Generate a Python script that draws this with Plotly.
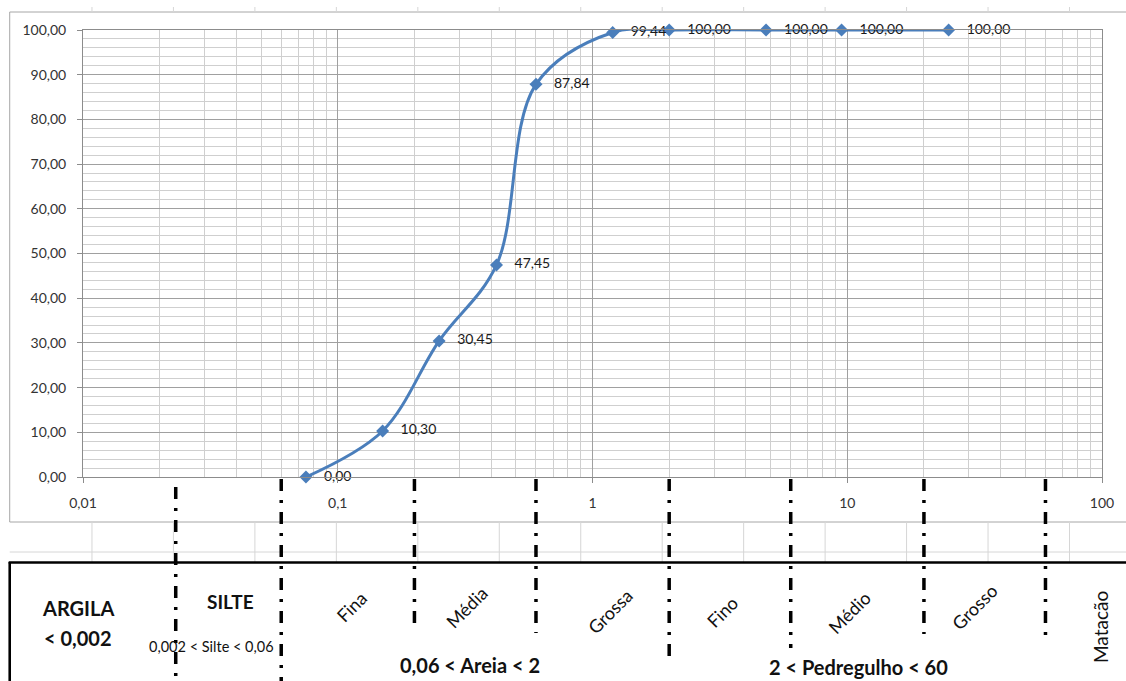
import plotly.graph_objects as go

# ---------------- data ----------------
diametros = [0.075, 0.15, 0.25, 0.42, 0.6, 1.2, 2.0, 4.8, 9.5, 25.0]
passante = [0.00, 10.30, 30.45, 47.45, 87.84, 99.44, 100.00, 100.00, 100.00, 100.00]
x_tick_vals = [0.01, 0.1, 1, 10, 100]
x_tick_text = ["0,01", "0,1", "1", "10", "100"]
limites = [0.06, 0.2, 0.6, 2, 6, 20, 60]          # fraction boundaries (mm)

# ---------------- geometry helpers (pixels -> paper) ----------------
W, H = 1126, 681
L, R, T, B = 83, 1105, 30, 477


def px(x):
    return (x - L) / (R - L)


def py(y):
    return (B - y) / (B - T)


BLUE = "#4A7EBB"
FONT = "Lato"
GRID_MAJ = "#a0a0a0"
GRID_MIN = "#cfcfcf"

minor_x = [m * 10 ** e for e in range(-2, 2) for m in range(2, 10)]

fig = go.Figure()
fig.add_trace(go.Scatter(
    x=diametros, y=passante,
    mode="lines+markers+text",
    line=dict(color=BLUE, width=3, shape="spline", smoothing=1),
    marker=dict(symbol="diamond", size=10, color=BLUE),
    texttemplate="\u00a0\u00a0\u00a0%{y:.2f}",
    textposition="middle right",
    textfont=dict(family=FONT, size=14, color="#1a1a1a"),
    cliponaxis=False,
    showlegend=False,
))

fig.update_layout(
    width=W, height=H,
    margin=dict(l=L, r=W - R, t=T, b=H - B),
    paper_bgcolor="white", plot_bgcolor="white",
    separators=",.",
    font=dict(family=FONT, color="#333333"),
)

fig.update_xaxes(
    type="log", range=[-2, 2],
    tickmode="array", tickvals=x_tick_vals, ticktext=x_tick_text,
    ticks="outside", ticklen=5, tickcolor="#8c8c8c",
    showline=True, linecolor="#8c8c8c", mirror=True,
    showgrid=True, gridcolor=GRID_MAJ, gridwidth=1,
    minor=dict(tickmode="array", tickvals=minor_x, showgrid=True,
               gridcolor=GRID_MIN, ticks=""),
    zeroline=False,
    tickfont=dict(family=FONT, size=14, color="#333333"),
    ticklabelstandoff=8,
)
fig.update_yaxes(
    range=[0, 100], dtick=10, tickformat=".2f",
    ticks="outside", ticklen=5, tickcolor="#8c8c8c",
    showline=True, linecolor="#8c8c8c", mirror=True,
    showgrid=True, gridcolor=GRID_MAJ, gridwidth=1,
    minor=dict(dtick=2, showgrid=True, gridcolor=GRID_MIN, ticks=""),
    zeroline=False,
    tickfont=dict(family=FONT, size=14, color="#333333"),
    ticklabelstandoff=8,
)

shapes = []
# chart border (excel chart object)
border = dict(type="line", xref="paper", yref="paper",
              line=dict(color="#a6a6a6", width=1))
shapes.append({**border, "x0": px(9.5), "x1": px(1130), "y0": py(12), "y1": py(12)})
shapes.append({**border, "x0": px(9.5), "x1": px(9.5), "y0": py(12), "y1": py(522)})
shapes.append({**border, "x0": px(9.5), "x1": px(1130), "y0": py(522), "y1": py(522)})

# spreadsheet cell lines
cell = dict(type="line", xref="paper", yref="paper",
            line=dict(color="#d6d6d6", width=1))
shapes.append({**cell, "x0": px(9.5), "x1": px(1130), "y0": py(552), "y1": py(552)})
for k in range(13):
    cx = 92 + 81.7 * k
    shapes.append({**cell, "x0": px(cx), "x1": px(cx), "y0": py(522), "y1": py(562)})
    shapes.append({**cell, "x0": px(cx), "x1": px(cx), "y0": py(7), "y1": py(12)})

# thick black table lines
blk = dict(type="line", xref="paper", yref="paper",
           line=dict(color="black", width=2.6))
shapes.append({**blk, "x0": px(8.5), "x1": px(1130), "y0": py(562.5), "y1": py(562.5)})
shapes.append({**blk, "x0": px(9.5), "x1": px(9.5), "y0": py(562), "y1": py(690)})

# dash-dot boundary lines
DASH = "12px,9px,3px,9px"
dl = dict(type="line", yref="paper", layer="above",
          line=dict(color="black", width=3.5, dash=DASH))
shapes.append({**dl, "xref": "paper", "x0": px(176), "x1": px(176),
               "y0": py(487), "y1": py(690)})
bottoms = [690, 632, 633, 658, 648, 634, 643]
for v, bt in zip(limites, bottoms):
    shapes.append({**dl, "xref": "x", "x0": v, "x1": v, "y0": py(479), "y1": py(bt)})

fig.update_layout(shapes=shapes)

# ---------------- table text ----------------
ann = []


def txt(t, x, y, size, bold=False, angle=0, color="#111111"):
    ann.append(dict(text=t, x=px(x), y=py(y), xref="paper", yref="paper",
                    xanchor="center", yanchor="middle", showarrow=False,
                    textangle=angle,
                    font=dict(family=FONT, size=size, color=color,
                              weight="bold" if bold else "normal")))


txt("ARGILA", 78, 608, 20, bold=True)
txt("< 0,002", 78, 638, 20, bold=True)
txt("SILTE", 231, 601, 19, bold=True)
txt("0,002 < Silte < 0,06", 212, 646, 14.5)
txt("Fina", 352, 607, 18, angle=-45)
txt("Média", 468, 607, 18, angle=-45)
txt("Grossa", 612, 611, 18, angle=-45)
txt("Fino", 724, 612, 18, angle=-45)
txt("Médio", 852, 612, 18, angle=-45)
txt("Grosso", 977, 607, 18, angle=-45)
txt("Matacão", 1103, 627, 19, angle=-90)
txt("0,06 < Areia < 2", 471, 665, 20, bold=True)
txt("2 < Pedregulho < 60", 861, 667, 20, bold=True)

fig.update_layout(annotations=ann)

fig.write_html("out.html")
